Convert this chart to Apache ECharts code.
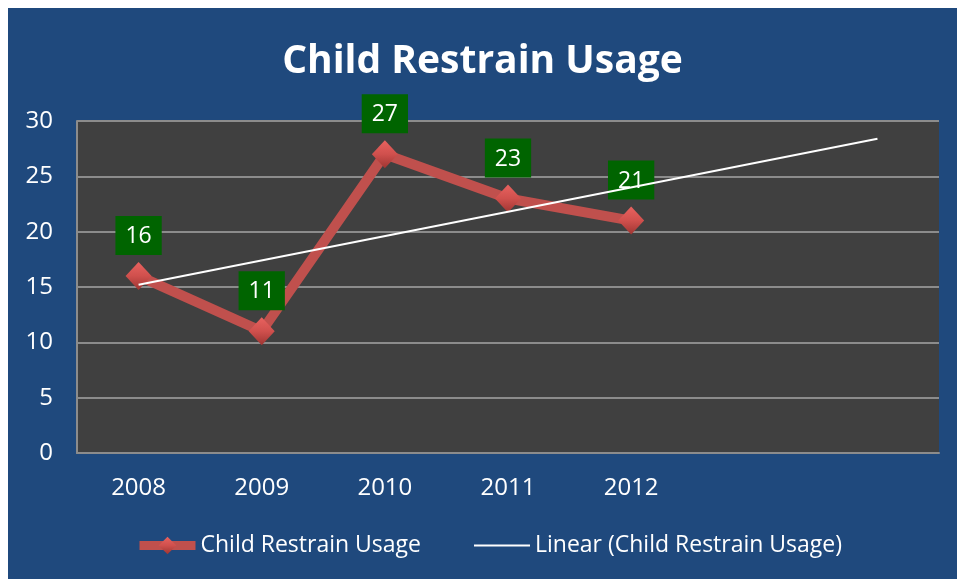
<!DOCTYPE html>
<html>
<head>
<meta charset="utf-8">
<script src="https://cdn.jsdelivr.net/npm/echarts@6/dist/echarts.min.js"></script>
<style>
html,body{margin:0;padding:0;background:#fff;}
#c{position:absolute;left:8px;top:8px;width:949px;height:571px;}
</style>
</head>
<body>
<div id="c"></div>
<script>
var categories = ['2008', '2009', '2010', '2011', '2012', '', ''];
var usage = [16, 11, 27, 23, 21];
// trendline endpoints (at 2008 and at the 7th slot)
var trend = [15.2, null, null, null, null, null, 28.4];
var yTicks = [0, 5, 10, 15, 20, 25, 30];

var chart = echarts.init(document.getElementById('c'));
var FONT = 'Open Sans';
chart.setOption({
  backgroundColor: '#1F497D',
  textStyle: { fontFamily: FONT },
  title: {
    text: 'Child Restrain Usage',
    left: 'center',
    top: 29,
    textStyle: { color: '#fff', fontSize: 39, fontWeight: 'bold', fontFamily: FONT }
  },
  legend: {
    left: 122,
    top: 521,
    itemWidth: 56,
    itemHeight: 22,
    itemGap: 52,
    textStyle: { color: '#fff', fontSize: 23, fontFamily: FONT },
    data: [
      { name: 'Child Restrain Usage', lineStyle: { width: 9, color: '#C0504D' } },
      { name: 'Linear (Child Restrain Usage)', lineStyle: { width: 2, color: '#fff' }, itemStyle: { opacity: 0 } }
    ]
  },
  grid: {
    left: 69, right: 18, top: 113, bottom: 126,
    show: true, backgroundColor: '#404040', borderWidth: 0
  },
  xAxis: {
    type: 'category',
    data: categories,
    boundaryGap: true,
    axisLine: { show: true, lineStyle: { color: '#8C8C8C', width: 2 } },
    axisTick: { show: false },
    axisLabel: { color: '#fff', fontSize: 24, margin: 23, fontFamily: FONT }
  },
  yAxis: {
    type: 'value',
    min: yTicks[0],
    max: yTicks[yTicks.length - 1],
    interval: 5,
    axisLine: { show: true, lineStyle: { color: '#8C8C8C', width: 2 } },
    axisTick: { show: false },
    splitLine: { lineStyle: { color: '#8C8C8C', width: 2 } },
    axisLabel: { color: '#fff', fontSize: 24, margin: 24, fontFamily: FONT }
  },
  series: [
    {
      name: 'Child Restrain Usage',
      type: 'line',
      data: usage,
      symbol: 'diamond',
      symbolSize: [26, 28],
      lineStyle: { color: '#C0504D', width: 10 },
      itemStyle: {
        color: new echarts.graphic.LinearGradient(0, 0, 0, 1, [
          { offset: 0, color: '#E8625F' },
          { offset: 0.5, color: '#D0504D' },
          { offset: 1, color: '#9E3532' }
        ])
      },
      label: {
        show: true,
        position: 'top',
        distance: 7,
        color: '#fff',
        fontSize: 23,
        fontFamily: FONT,
        backgroundColor: '#006400',
        padding: [9, 10, 7, 10]
      },
      z: 2
    },
    {
      name: 'Linear (Child Restrain Usage)',
      type: 'line',
      data: trend,
      connectNulls: true,
      symbol: 'none',
      lineStyle: { color: '#FFFFFF', width: 2 },
      itemStyle: { color: '#FFFFFF' },
      z: 5
    }
  ]
});
</script>
</body>
</html>
